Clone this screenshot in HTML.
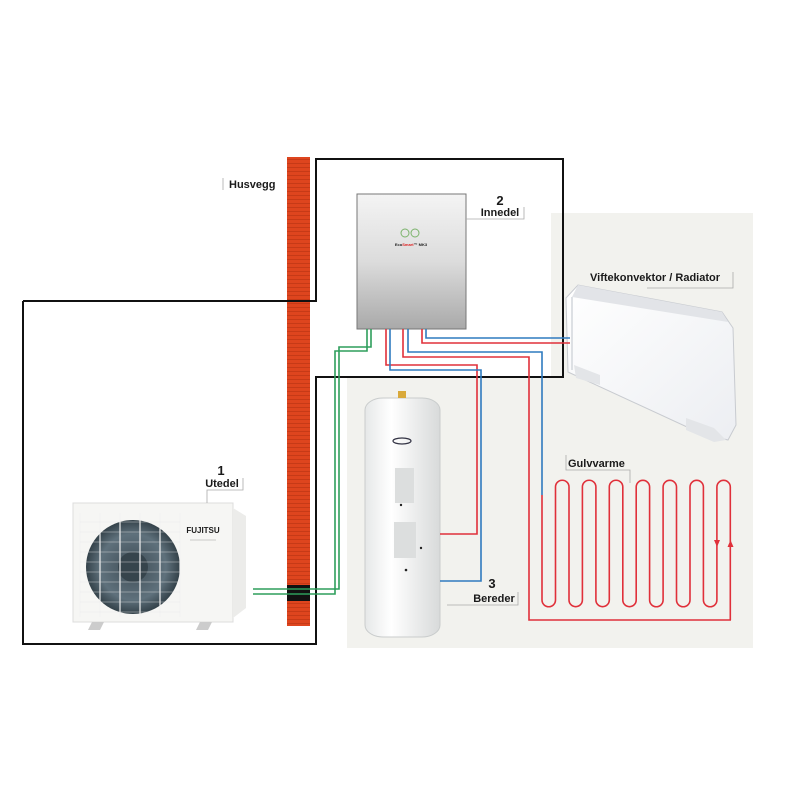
<!DOCTYPE html>
<html><head><meta charset="utf-8"><style>
html,body{margin:0;padding:0;background:#fff;}
svg{display:block}
text{font-family:"Liberation Sans",sans-serif;font-weight:bold;fill:#1a1a1a}
</style></head><body>
<svg width="800" height="800" viewBox="0 0 800 800" xmlns="http://www.w3.org/2000/svg">
<defs>
<linearGradient id="gi" x1="0" y1="0" x2="0" y2="1"><stop offset="0" stop-color="#f4f4f4"/><stop offset="0.5" stop-color="#dcdcdc"/><stop offset="1" stop-color="#a9a9a9"/></linearGradient>
<linearGradient id="gt" x1="0" y1="0" x2="1" y2="0"><stop offset="0" stop-color="#e6e8e8"/><stop offset="0.35" stop-color="#ffffff"/><stop offset="1" stop-color="#d8dada"/></linearGradient>
<radialGradient id="gf" cx="0.5" cy="0.5" r="0.5"><stop offset="0" stop-color="#3e4c55"/><stop offset="0.7" stop-color="#5f717c"/><stop offset="1" stop-color="#34424a"/></radialGradient>
<linearGradient id="gr" x1="0" y1="0" x2="1" y2="1"><stop offset="0" stop-color="#ffffff"/><stop offset="1" stop-color="#eceef2"/></linearGradient>
<pattern id="brick" width="6" height="4" patternUnits="userSpaceOnUse"><rect width="6" height="4" fill="#de451e"/><rect y="3" width="6" height="1" fill="#c63a17"/></pattern>
</defs>
<rect x="551" y="213" width="202" height="435" fill="#f2f2ee"/>
<rect x="347" y="378" width="406" height="270" fill="#f2f2ee"/>
<rect x="287" y="157" width="23" height="469" fill="url(#brick)"/>
<rect x="287" y="585" width="23" height="16" fill="#111"/>
<polyline points="23,301 316,301 316,159 563,159 563,377 316,377 316,644 23,644 23,301" fill="none" stroke="#111" stroke-width="2"/>
<rect x="357" y="194" width="109" height="135" fill="url(#gi)" stroke="#777" stroke-width="1"/>
<circle cx="405" cy="233" r="4" fill="none" stroke="#7bb36b" stroke-width="1"/>
<circle cx="415" cy="233" r="4" fill="none" stroke="#7bb36b" stroke-width="1"/>
<text x="411" y="246" font-size="4" text-anchor="middle" fill="#333">Eco<tspan fill="#d22">Smart</tspan>™ MK3</text>
<!-- radiator -->
<polygon points="566,298 578,285 722,312 733,328 736,425 728,440 700,433 568,372" fill="url(#gr)" stroke="#c8cbd0" stroke-width="1"/>
<polygon points="578,285 722,312 728,322 572,297" fill="#e2e4e8"/>
<polyline points="572,297 572,370" stroke="#dde0e4" stroke-width="2" fill="none"/>
<polygon points="686,418 714,428 726,440 714,442 686,430" fill="#e3e5e8"/>
<polygon points="574,365 600,375 600,385 576,378" fill="#e3e5e8"/>
<!-- tank -->
<rect x="365" y="398" width="75" height="239" rx="18" ry="12" fill="url(#gt)" stroke="#c9cccc" stroke-width="1"/>
<rect x="398" y="391" width="8" height="7" fill="#d9a93a"/>
<ellipse cx="402" cy="441" rx="9" ry="3" fill="none" stroke="#334" stroke-width="1.2"/>
<rect x="395" y="468" width="19" height="35" fill="#dcdede"/>
<rect x="394" y="522" width="22" height="36" fill="#dcdede"/>
<circle cx="401" cy="505" r="1.2" fill="#222"/>
<circle cx="421" cy="548" r="1.2" fill="#222"/>
<circle cx="406" cy="570" r="1.3" fill="#222"/>
<!-- outdoor unit -->
<rect x="73" y="503" width="160" height="119" fill="#f6f6f4" stroke="#ddd" stroke-width="1"/>
<polygon points="233,508 246,516 246,608 233,618" fill="#ececea"/>
<circle cx="133" cy="567" r="47" fill="url(#gf)"/>
<circle cx="133" cy="567" r="15" fill="#36444c"/>
<g stroke="#f2f2f2" stroke-width="1.2">
<line x1="80" y1="513" x2="80" y2="617"/><line x1="100" y1="513" x2="100" y2="617"/><line x1="120" y1="513" x2="120" y2="617"/><line x1="140" y1="513" x2="140" y2="617"/><line x1="160" y1="513" x2="160" y2="617"/><line x1="180" y1="513" x2="180" y2="617"/>
</g>
<g stroke="#e8e8e8" stroke-width="0.6" opacity="0.8">
<line x1="80" y1="522" x2="180" y2="522"/><line x1="80" y1="532" x2="180" y2="532"/><line x1="80" y1="542" x2="180" y2="542"/><line x1="80" y1="552" x2="180" y2="552"/><line x1="80" y1="562" x2="180" y2="562"/><line x1="80" y1="572" x2="180" y2="572"/><line x1="80" y1="582" x2="180" y2="582"/><line x1="80" y1="592" x2="180" y2="592"/><line x1="80" y1="602" x2="180" y2="602"/><line x1="80" y1="612" x2="180" y2="612"/>
</g>
<text x="203" y="533" font-size="8" text-anchor="middle" fill="#d93a2b">FUJITSU</text>
<line x1="190" y1="540" x2="216" y2="540" stroke="#bbb" stroke-width="0.8"/>
<polygon points="92,622 104,622 100,630 88,630" fill="#ccc"/>
<polygon points="200,622 212,622 208,630 196,630" fill="#ccc"/>
<polyline points="371,329 371,347 339,347 339,589 253,589" fill="none" stroke="#2e9e5b" stroke-width="1.6"/>
<polyline points="367,329 367,351 335,351 335,594 253,594" fill="none" stroke="#2e9e5b" stroke-width="1.6"/>
<g fill="none" stroke-width="1.6">
<polyline points="386,329 386,365 477,365 477,534 440,534" stroke="#e0303a"/>
<polyline points="390,329 390,370 481,370 481,581 440,581" stroke="#2f7bbf"/>
<polyline points="403,329 403,357 529,357 529,620 731,620" stroke="#e0303a"/>
<polyline points="408,329 408,352 542,352 542,495" stroke="#2f7bbf"/>
<polyline points="422,329 422,343 570,343" stroke="#e0303a"/>
<polyline points="426,329 426,338 570,338" stroke="#2f7bbf"/>
<path d="M542,495 L542,600 A6.7,6.7 0 0 0 555.5,600 L555.5,487 A6.7,6.7 0 0 1 569,487 L569,600 A6.7,6.7 0 0 0 582.4,600 L582.4,487 A6.7,6.7 0 0 1 595.9,487 L595.9,600 A6.7,6.7 0 0 0 609.3,600 L609.3,487 A6.7,6.7 0 0 1 622.8,487 L622.8,600 A6.7,6.7 0 0 0 636.2,600 L636.2,487 A6.7,6.7 0 0 1 649.6,487 L649.6,600 A6.7,6.7 0 0 0 663.1,600 L663.1,487 A6.7,6.7 0 0 1 676.5,487 L676.5,600 A6.7,6.7 0 0 0 690,600 L690,487 A6.7,6.7 0 0 1 703.4,487 L703.4,600 A6.7,6.7 0 0 0 716.9,600 L716.9,487 A6.7,6.7 0 0 1 730.3,487 L730.3,620" stroke="#e0303a"/>
</g>
<polygon points="714,540 720,540 717,547" fill="#e0303a"/>
<polygon points="727.5,547 733.5,547 730.5,540" fill="#e0303a"/>
<g stroke="#aaa" stroke-width="0.8" fill="none">
<line x1="223" y1="178" x2="223" y2="190"/>
<polyline points="466,219 524,219 524,207"/>
<polyline points="207,503 207,490 243,490 243,478"/>
<polyline points="647,288 733,288 733,272"/>
<polyline points="566,455 566,470 630,470 630,483"/>
<polyline points="447,605 518,605 518,592"/>
</g>
<text x="229" y="188" font-size="11">Husvegg</text>
<text x="500" y="205" font-size="13" text-anchor="middle">2</text>
<text x="500" y="216" font-size="11" text-anchor="middle">Innedel</text>
<text x="221" y="475" font-size="13" text-anchor="middle">1</text>
<text x="222" y="487" font-size="11" text-anchor="middle">Utedel</text>
<text x="590" y="281" font-size="11">Viftekonvektor / Radiator</text>
<text x="568" y="467" font-size="11">Gulvvarme</text>
<text x="492" y="588" font-size="13" text-anchor="middle">3</text>
<text x="494" y="602" font-size="11" text-anchor="middle">Bereder</text>
</svg>
</body></html>
